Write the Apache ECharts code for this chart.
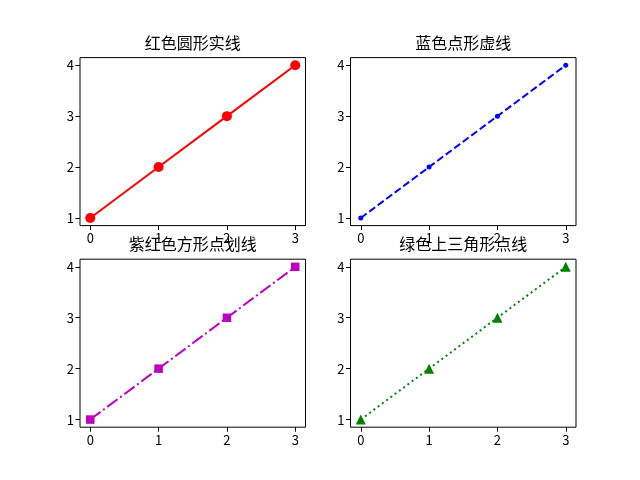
<!DOCTYPE html>
<html>
<head>
<meta charset="utf-8">
<script src="https://cdn.jsdelivr.net/npm/echarts@6/dist/echarts.min.js"></script>
<style>
  html, body { margin: 0; padding: 0; background: #fff; }
  #chart { width: 640px; height: 480px; }
</style>
</head>
<body>
<div id="chart"></div>
<script>
// 数据
var xs = [0, 1, 2, 3];
var ys = [1, 2, 3, 4];
var xTicks = [0, 1, 2, 3];
var yTicks = [1, 2, 3, 4];
var titles = ["红色圆形实线", "蓝色点形虚线", "紫红色方形点划线", "绿色上三角形点线"];

(function () {
  var myChart = echarts.init(document.getElementById("chart"));
  var font = "Noto Sans CJK SC";

  // 子图位置 (matplotlib 默认 2x2 布局)
  var cells = [
    { left: 80, top: 57.6 },
    { left: 350.5, top: 57.6 },
    { left: 80, top: 259.2 },
    { left: 350.5, top: 259.2 },
  ];
  var W = 225.5, H = 168;

  // 每个子图的线型和标记
  var styles = [
    { color: "#ff0000", type: "solid", symbol: "circle", size: 10 },
    { color: "#0000ff", type: [7.4, 3.2], symbol: "circle", size: 5 },
    { color: "#bf00bf", type: [12.8, 3.2, 2, 3.2], symbol: "rect", size: 8.5 },
    { color: "#008000", type: [2, 3.3], symbol: "triangle", size: 10 },
  ];

  var points = xs.map(function (x, i) { return [x, ys[i]]; });

  var grid = [], xAxis = [], yAxis = [], series = [], title = [];
  cells.forEach(function (c, i) {
    grid.push({
      left: c.left, top: c.top, width: W, height: H,
      show: true, borderColor: "#000", borderWidth: 1, backgroundColor: "#fff",
    });
    title.push({
      text: titles[i],
      left: c.left + W / 2,
      top: c.top - 23,
      textAlign: "center",
      padding: 0,
      textStyle: { fontFamily: font, fontSize: 16, fontWeight: "normal", color: "#000" },
    });
    xAxis.push({
      type: "value",
      gridIndex: i,
      position: "bottom",
      min: -0.15,
      max: 3.15,
      splitLine: { show: false },
      axisLine: { show: false, onZero: false },
      axisTick: { show: true, length: 4.5, lineStyle: { color: "#000", width: 1 }, customValues: xTicks },
      axisLabel: { color: "#000", fontSize: 13, fontFamily: font, margin: 6, customValues: xTicks },
    });
    yAxis.push({
      type: "value",
      gridIndex: i,
      position: "left",
      min: 0.85,
      max: 4.15,
      splitLine: { show: false },
      axisLine: { show: false, onZero: false },
      axisTick: { show: true, length: 4.5, lineStyle: { color: "#000", width: 1 }, customValues: yTicks },
      axisLabel: { color: "#000", fontSize: 13, fontFamily: font, margin: 6, customValues: yTicks },
    });
    var s = styles[i];
    series.push({
      type: "line",
      xAxisIndex: i,
      yAxisIndex: i,
      data: points,
      symbol: s.symbol,
      symbolSize: s.size,
      showSymbol: true,
      animation: false,
      lineStyle: { color: s.color, width: 2, type: s.type, cap: "butt" },
      itemStyle: { color: s.color, borderWidth: 0 },
    });
  });

  var option = {
    backgroundColor: "#fff",
    animation: false,
    title: title,
    grid: grid,
    xAxis: xAxis,
    yAxis: yAxis,
    series: series,
  };
  myChart.setOption(option);
  window.addEventListener("resize", function () {
    myChart.resize();
  });
})();
</script>
</body>
</html>
